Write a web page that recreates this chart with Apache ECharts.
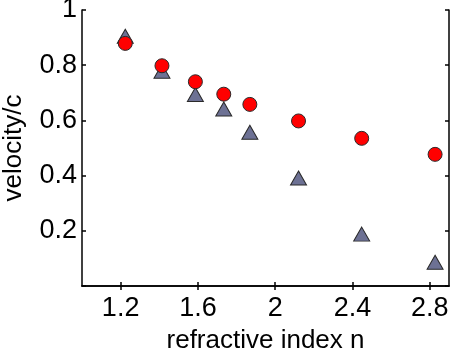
<!DOCTYPE html>
<html>
<head>
<meta charset="utf-8">
<script src="https://cdn.jsdelivr.net/npm/echarts@6/dist/echarts.min.js"></script>
<style>
  html, body { margin: 0; padding: 0; background: #fff; }
  #chart { width: 452px; height: 350px; }
</style>
</head>
<body>
<div id="chart"></div>
<script>
// refractive index n (x) and the two measured velocity series
var nValues = [1.224, 1.414, 1.587, 1.734, 1.869, 2.121, 2.448, 2.828];
var circleVelocity = [0.879, 0.798, 0.740, 0.695, 0.658, 0.598, 0.535, 0.477];
var triangleVelocity = [0.905, 0.778, 0.694, 0.641, 0.557, 0.391, 0.188, 0.086];
var xTicks = [1.2, 1.6, 2, 2.4, 2.8];

var chart = echarts.init(document.getElementById('chart'));
var font = 'Liberation Sans, Arial, Helvetica, sans-serif';
var black = '#000';

function pairs(ys) {
    return nValues.map(function (x, i) { return [x, ys[i]]; });
}

chart.setOption({
    animation: false,
    grid: { left: 82, right: 3, top: 10, bottom: 64, containLabel: false, outerBoundsMode: 'none' },
    xAxis: [
        {
            type: 'value', min: 1.0, max: 2.9, position: 'bottom',
            name: 'refractive index n', nameLocation: 'middle', nameGap: 42,
            nameTextStyle: { color: black, fontSize: 26, fontFamily: font },
            axisLine: { show: true, lineStyle: { color: black, width: 1.5 } },
            axisTick: { show: true, inside: true, length: 4, customValues: xTicks, lineStyle: { color: black, width: 1.5 } },
            axisLabel: { customValues: xTicks, color: black, fontSize: 27, fontFamily: font, margin: 9 },
            splitLine: { show: false }
        },
        {
            type: 'value', min: 1.0, max: 2.9, position: 'top',
            axisLine: { show: true, lineStyle: { color: black, width: 1.5 } },
            axisTick: { show: true, inside: true, length: 4, customValues: xTicks, lineStyle: { color: black, width: 1.5 } },
            axisLabel: { show: false },
            splitLine: { show: false }
        }
    ],
    yAxis: [
        {
            type: 'value', min: 0, max: 1, interval: 0.2, position: 'left',
            name: 'velocity/c', nameLocation: 'middle', nameGap: 55,
            nameTextStyle: { color: black, fontSize: 26, fontFamily: font },
            axisLine: { show: true, lineStyle: { color: black, width: 1.5 } },
            axisTick: { show: true, inside: true, length: 4, lineStyle: { color: black, width: 1.5 } },
            axisLabel: {
                color: black, fontSize: 27, fontFamily: font, margin: 5,
                formatter: function (v) { return v === 0 ? '' : String(v); }
            },
            splitLine: { show: false }
        },
        {
            type: 'value', min: 0, max: 1, interval: 0.2, position: 'right',
            axisLine: { show: true, lineStyle: { color: black, width: 1.5 } },
            axisTick: { show: true, inside: true, length: 4, lineStyle: { color: black, width: 1.5 } },
            axisLabel: { show: false },
            splitLine: { show: false }
        }
    ],
    series: [
        {
            type: 'scatter', data: pairs(triangleVelocity),
            symbol: 'triangle', symbolSize: [16, 14],
            itemStyle: { color: '#6d7194', borderColor: '#2a2a2a', borderWidth: 1, opacity: 1 }
        },
        {
            type: 'scatter', data: pairs(circleVelocity),
            symbol: 'circle', symbolSize: 14,
            itemStyle: { color: '#ff0000', borderColor: '#2a2a2a', borderWidth: 1, opacity: 1 }
        }
    ]
});
</script>
</body>
</html>
